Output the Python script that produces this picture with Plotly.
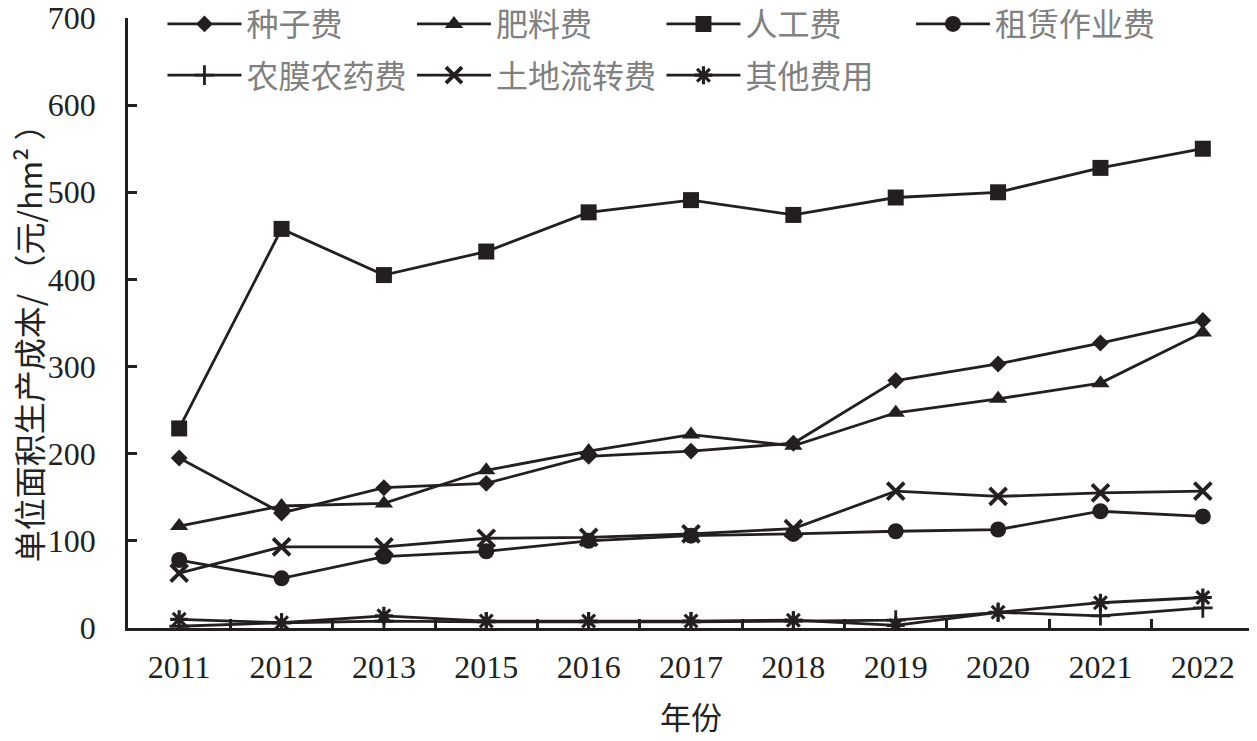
import plotly.graph_objects as go

years = ["2011", "2012", "2013", "2015", "2016", "2017", "2018", "2019", "2020", "2021", "2022"]
seed_cost = [195, 132, 161, 166, 197, 203, 212, 284, 303, 327, 353]        # 种子费
fertilizer_cost = [117, 140, 143, 181, 203, 222, 209, 247, 263, 281, 339]  # 肥料费
labor_cost = [229, 458, 405, 432, 477, 491, 474, 494, 500, 528, 550]       # 人工费
rental_cost = [78, 57, 82, 88, 100, 106, 108, 111, 113, 134, 128]          # 租赁作业费
film_pesticide_cost = [2, 6, 8, 7, 7, 7, 8, 9, 18, 14, 23]                 # 农膜农药费
land_transfer_cost = [63, 93, 93, 103, 104, 108, 114, 157, 151, 155, 157]  # 土地流转费
other_cost = [10, 6, 14, 8, 8, 8, 9, 3, 18, 29, 35]                        # 其他费用

y_ticks = [0, 100, 200, 300, 400, 500, 600, 700]

INK = "#231f20"
CJK = "Noto Sans CJK SC"
SERIF = "Liberation Serif, Times New Roman, serif"

series = [
    ("种子费", seed_cost, dict(symbol="diamond", size=13), "legend"),
    ("肥料费", fertilizer_cost, dict(symbol="triangle-up", size=16), "legend"),
    ("人工费", labor_cost, dict(symbol="square", size=16), "legend"),
    ("租赁作业费", rental_cost, dict(symbol="circle", size=16), "legend"),
    ("农膜农药费", film_pesticide_cost, dict(symbol="cross-thin", size=14, line=dict(width=2.8, color=INK)), "legend2"),
    ("土地流转费", land_transfer_cost, dict(symbol="x-thin", size=17, line=dict(width=3.8, color=INK)), "legend2"),
    ("其他费用", other_cost, dict(symbol="asterisk", size=15, line=dict(width=3.2, color=INK)), "legend2"),
]

fig = go.Figure()
for name, vals, mk, lg in series:
    m = dict(color=INK)
    m.update(mk)
    fig.add_trace(go.Scatter(
        x=years, y=vals, name=name, mode="lines+markers",
        line=dict(color=INK, width=2.8),
        marker=m, legend=lg,
    ))

legend_common = dict(
    orientation="h", xanchor="left", yanchor="middle",
    bgcolor="rgba(0,0,0,0)", borderwidth=0,
    font=dict(family=CJK, size=32, color="#808080"),
    itemwidth=74, entrywidth=160.5, entrywidthmode="pixels",
    tracegroupgap=0, itemclick=False,
)

# page has an 8px body margin: figure is sized so the plot area lands at x 128-1254, y 18-628
fig.update_layout(
    width=1249, height=733,
    margin=dict(l=120, r=3, t=10, b=113, autoexpand=False),
    paper_bgcolor="white", plot_bgcolor="white",
    showlegend=True,
    legend=dict(x=0.0306, y=0.99, **legend_common),
    legend2=dict(x=0.0306, y=0.906, **legend_common),
    xaxis=dict(
        type="category", range=[-0.5, 10.5],
        showline=True, linecolor=INK, linewidth=2.8,
        ticks="inside", tickson="boundaries", ticklen=9, tickwidth=2.5, tickcolor=INK,
        showgrid=False, zeroline=False,
        tickfont=dict(family=SERIF, size=32, color=INK),
        ticklabelstandoff=9,
        title=dict(text="年份", font=dict(family=CJK, size=31, color="#222"), standoff=24),
        automargin=False,
    ),
    yaxis=dict(
        range=[0, 700], tickvals=y_ticks,
        showline=True, linecolor=INK, linewidth=2.8,
        ticks="inside", ticklen=9, tickwidth=2.5, tickcolor=INK,
        showgrid=False, zeroline=False,
        tickfont=dict(family=SERIF, size=32, color=INK),
        ticklabelstandoff=23, ticklabeloverflow="allow",
        automargin=False,
    ),
    annotations=[dict(
        text="单位面积生产成本/ （元/hm² ）",
        textangle=-90, xref="paper", yref="paper", x=0, y=0.48,
        xanchor="center", yanchor="middle", xshift=-100, showarrow=False,
        font=dict(family=CJK, size=32, color="#222"),
    )],
)

fig.write_html("out.html")
